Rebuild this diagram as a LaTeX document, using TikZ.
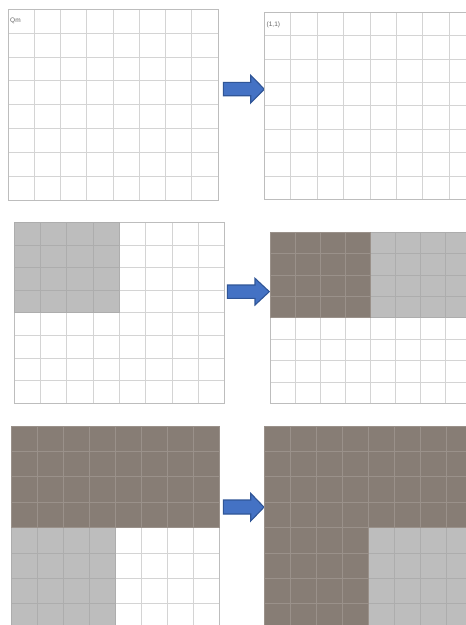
\documentclass[tikz,border=0pt]{standalone}
\usepackage{fontspec}
\setsansfont{Liberation Sans}
\definecolor{gline}{HTML}{D4D4D4}
\definecolor{gborder}{HTML}{BDBDBD}
\definecolor{dkcol}{HTML}{877D75}
\definecolor{dklcol}{HTML}{9A918A}
\definecolor{ltcol}{HTML}{BDBDBD}
\definecolor{ltlcol}{HTML}{ADADAD}
\definecolor{arrfill}{HTML}{4472C4}
\definecolor{arrdraw}{HTML}{2F5597}
\tikzset{
  wline/.style={draw=gline,line width=0.7pt},
  wborder/.style={draw=gborder,line width=0.8pt},
  dkfill/.style={fill=dkcol},
  dkline/.style={draw=dklcol,line width=0.7pt},
  ltfill/.style={fill=ltcol},
  ltline/.style={draw=ltlcol,line width=0.7pt},
  blockarrow/.style={fill=arrfill,draw=arrdraw,line width=1.1pt,line join=miter},
  lbl/.style={font=\sffamily\fontsize{6.5}{7}\selectfont,text=black!60,inner sep=0pt}
}
% #1 x0, #2 y0, #3 cell w, #4 cell h
\newcommand{\gridbox}[4]{%
  \foreach \i in {0,...,8} {\draw[wline] ({#1+\i*#3},#2) -- ({#1+\i*#3},{#2+8*#4});}
  \foreach \j in {0,...,8} {\draw[wline] (#1,{#2+\j*#4}) -- ({#1+8*#3},{#2+\j*#4});}
  \draw[wborder] (#1,#2) rectangle ({#1+8*#3},{#2+8*#4});
}
% #1 x0, #2 y0, #3 cw, #4 ch, #5 c0, #6 c1, #7 r0, #8 r1, #9 style prefix
\newcommand{\gridregion}[9]{%
  \fill[#9fill] ({#1+#5*#3},{#2+#7*#4}) rectangle ({#1+#6*#3},{#2+#8*#4});
  \foreach \i in {#5,...,#6} {\draw[#9line] ({#1+\i*#3},{#2+#7*#4}) -- ({#1+\i*#3},{#2+#8*#4});}
  \foreach \j in {#7,...,#8} {\draw[#9line] ({#1+#5*#3},{#2+\j*#4}) -- ({#1+#6*#3},{#2+\j*#4});}
}
% #1 body left x, #2 head base x, #3 tip x, #4 body top, #5 body bottom, #6 head top, #7 head bottom
\newcommand{\blockarrowat}[7]{%
  \draw[blockarrow] (#1,#4) -- (#2,#4) -- (#2,#6) -- (#3,{(#6+#7)/2}) -- (#2,#7) -- (#2,#5) -- (#1,#5) -- cycle;
}
\begin{document}
\begin{tikzpicture}[x=1pt,y=-1pt]
\useasboundingbox (0,0) rectangle (466,625);
\fill[white] (0,0) rectangle (466,625);
\clip (0,0) rectangle (466,625);

% Row 1
\gridbox{8}{9.3}{26.25}{23.84}
\node[lbl,anchor=west] (qm) at (10,21) {Qm};
\blockarrowat{223.3}{250.7}{264.3}{82.3}{95.7}{75.3}{103}
\gridbox{264.3}{12.3}{26.4}{23.38}
\node[lbl,anchor=west] (one) at (266.5,24.5) {(1,1)};

% Row 2
\gridbox{14}{222.3}{26.33}{22.63}
\gridregion{14}{222.3}{26.33}{22.63}{0}{4}{0}{4}{lt}
\blockarrowat{227.3}{255}{269.3}{285}{298.3}{278.3}{305}
\gridbox{270}{232.3}{25.1}{21.38}
\gridregion{270}{232.3}{25.1}{21.38}{4}{8}{0}{4}{lt}
\gridregion{270}{232.3}{25.1}{21.38}{0}{4}{0}{4}{dk}

% Row 3
\gridbox{11}{426}{26.1}{25.4}
\gridregion{11}{426}{26.1}{25.4}{0}{4}{4}{8}{lt}
\gridregion{11}{426}{26.1}{25.4}{0}{8}{0}{4}{dk}
\blockarrowat{223.3}{250.7}{264}{500}{514}{493.3}{521}
\gridbox{264}{426}{26.05}{25.4}
\gridregion{264}{426}{26.05}{25.4}{4}{8}{4}{8}{lt}
\gridregion{264}{426}{26.05}{25.4}{0}{8}{0}{4}{dk}
\gridregion{264}{426}{26.05}{25.4}{0}{4}{4}{8}{dk}
\end{tikzpicture}
\end{document}
